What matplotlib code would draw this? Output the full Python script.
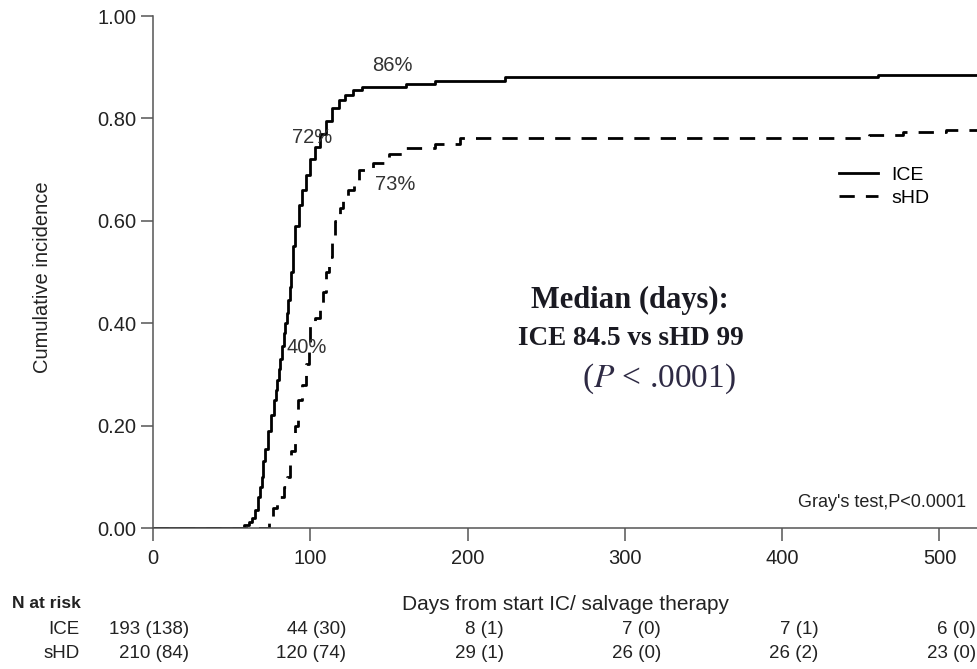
import matplotlib
matplotlib.use("Agg")
import matplotlib.pyplot as plt
import matplotlib.transforms as mtransforms

# cumulative incidence, ICE arm (step function, value holds until next time)
ice_days = [0, 58, 61, 63, 65, 67, 68, 69, 70, 71, 73, 75, 77, 78, 79, 80, 81, 82, 83, 84,
            85, 86, 87, 88, 89, 90, 93, 95, 97, 100, 103, 106, 110, 114, 118, 122, 127,
            133, 161, 179, 224, 461, 525]
ice_ci = [0.0, 0.005, 0.012, 0.02, 0.035, 0.06, 0.08, 0.10, 0.13, 0.155, 0.19, 0.22, 0.25,
          0.27, 0.29, 0.31, 0.33, 0.355, 0.38, 0.40, 0.42, 0.445, 0.47, 0.50, 0.55, 0.59,
          0.63, 0.66, 0.69, 0.72, 0.745, 0.77, 0.795, 0.82, 0.835, 0.845, 0.855, 0.862,
          0.868, 0.874, 0.880, 0.885, 0.885]

# cumulative incidence, sHD arm
shd_days = [0, 74, 76, 79, 83, 85, 87, 88, 90, 92, 95, 97, 99, 100, 103, 106, 108, 110,
            112, 114, 116, 119, 121, 124, 128, 131, 140, 150, 161, 179, 195, 455, 477, 504, 525]
shd_ci = [0.0, 0.02, 0.04, 0.06, 0.08, 0.10, 0.125, 0.15, 0.20, 0.25, 0.28, 0.32, 0.36,
          0.40, 0.41, 0.43, 0.46, 0.50, 0.53, 0.565, 0.60, 0.625, 0.645, 0.66, 0.675, 0.70,
          0.712, 0.73, 0.743, 0.750, 0.761, 0.768, 0.773, 0.777, 0.777]

# percentages written next to the curves: (label, day, value)
pct_labels = [("86%", 152, 0.904), ("72%", 101, 0.762),
              ("73%", 154, 0.670), ("40%", 98, 0.352)]

# number at risk (events) table
risk_days = [0, 100, 200, 300, 400, 500]
risk_ice = ["193 (138)", "44 (30)", "8 (1)", "7 (0)", "7 (1)", "6 (0)"]
risk_shd = ["210 (84)", "120 (74)", "29 (1)", "26 (0)", "26 (2)", "23 (0)"]

x_ticks = [0, 100, 200, 300, 400, 500]
y_ticks = [0.0, 0.2, 0.4, 0.6, 0.8, 1.0]

SANS = "Liberation Sans"
SERIF = "Liberation Serif"
TXT = "#222222"
plt.rcParams["font.family"] = SANS

W, H = 978, 669
fig = plt.figure(figsize=(W / 100, H / 100), dpi=100)
ax = fig.add_axes([153 / W, 141 / H, 825 / W, 512 / H])

ax.step(ice_days, ice_ci, where="post", color="black", lw=2.0, label="ICE")
ax.step(shd_days, shd_ci, where="post", color="black", lw=2.0,
        linestyle=(0, (5.5, 4)), label="sHD")

ax.set_xlim(0, 524.5)
ax.set_ylim(0, 1.0)
ax.set_xticks(x_ticks)
ax.set_yticks(y_ticks)
ax.set_yticklabels([f"{v:.2f}" for v in y_ticks])
for side in ("top", "right"):
    ax.spines[side].set_visible(False)
for side in ("left", "bottom"):
    ax.spines[side].set_color("#555555")
    ax.spines[side].set_linewidth(1.1)
ax.tick_params(axis="both", colors="#555555", labelcolor=TXT, labelsize=14.5,
               length=9, width=1.1)
ax.tick_params(axis="y", pad=3)
ax.tick_params(axis="x", pad=6)

ax.set_ylabel("Cumulative incidence", fontsize=14.5, color=TXT)
ax.yaxis.set_label_coords(-0.1224, 0.49)
ax.set_xlabel("Days from start IC/ salvage therapy", fontsize=15, color=TXT)
ax.xaxis.set_label_coords(0.5, -0.131)

for txt, d, v in pct_labels:
    ax.text(d, v, txt, ha="center", va="center", fontsize=14.5, color="#333333")

ax.legend(loc="upper left", bbox_to_anchor=(839 / W, 1 - 166 / H),
          bbox_transform=fig.transFigure, frameon=False, fontsize=14,
          handlelength=2.0, handletextpad=0.7, labelspacing=0.3,
          borderpad=0, borderaxespad=0)

# median summary block
fig.text(630 / W, 1 - 300 / H, "Median (days):", family=SERIF, weight="bold",
         fontsize=22, ha="center", va="center", color="#1a1a22")
fig.text(631 / W, 1 - 338 / H, "ICE 84.5 vs sHD 99", family=SERIF, weight="bold",
         fontsize=19.5, ha="center", va="center", color="#1a1a22")
fig.text(659 / W, 1 - 379 / H, r"($\mathit{P}$ < .0001)", family=SERIF,
         fontsize=24, ha="center", va="center", color="#2e2a44",
         math_fontfamily="stix")

ax.text(517, 0.05, "Gray's test,P<0.0001", ha="right", va="center",
        fontsize=13, color=TXT)

# number at risk table below the axis
fig.text(12 / W, 1 - 604 / H, "N at risk", weight="bold", fontsize=12.5,
         ha="left", va="center", color=TXT)
row_y = [1 - 629 / H, 1 - 653 / H]
fig.text(80 / W, row_y[0], "ICE", fontsize=13.5, ha="right", va="center", color=TXT)
fig.text(80 / W, row_y[1], "sHD", fontsize=13.5, ha="right", va="center", color=TXT)
trans = mtransforms.blended_transform_factory(ax.transData, fig.transFigure)
for d, a, b in zip(risk_days, risk_ice, risk_shd):
    ax.text(d + 23, row_y[0], a, transform=trans, fontsize=13.5, ha="right",
            va="center", color=TXT, clip_on=False)
    ax.text(d + 23, row_y[1], b, transform=trans, fontsize=13.5, ha="right",
            va="center", color=TXT, clip_on=False)

fig.savefig("out.png", dpi=100)
